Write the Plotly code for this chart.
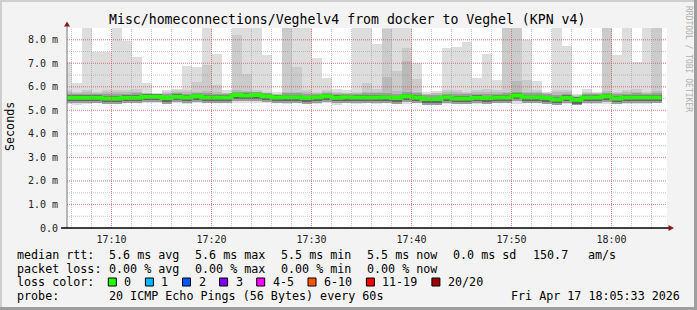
import plotly.graph_objects as go
import pandas as pd

# ---------------- data (values in milliseconds) ----------------
times = pd.date_range("2026-04-17 17:05", "2026-04-17 18:04", freq="1min")
end_time = pd.Timestamp("2026-04-17 18:05")
view_start, view_end = "2026-04-17 17:05:33", "2026-04-17 18:05:33"

ping_max = [7.05, 6.15, 9.0, 7.50, 7.46, 9.0, 7.93, 7.25, 6.15, 5.75,
            5.87, 5.90, 6.89, 6.85, 9.0, 7.38, 5.85, 9.0, 9.0, 9.0,
            7.35, 5.78, 9.0, 9.0, 9.0, 7.21, 6.37, 5.90, 5.85, 9.0,
            9.0, 7.80, 9.0, 9.0, 9.0, 7.00, 5.78, 5.83, 7.63, 7.68,
            7.89, 6.37, 7.38, 6.27, 9.0, 9.0, 8.00, 6.23, 5.80, 9.0,
            7.72, 5.70, 5.90, 5.78, 9.0, 7.35, 9.0, 7.04, 9.0, 9.0]
ping_2nd = [5.85, 5.80, 5.85, 5.80, 5.85, 5.85, 5.85, 5.90, 5.75, 5.70,
            5.80, 5.85, 5.85, 6.20, 6.93, 6.08, 5.75, 8.20, 6.55, 5.85,
            5.80, 5.70, 9.00, 6.83, 5.85, 5.80, 5.85, 5.80, 5.75, 5.80,
            6.15, 5.90, 8.45, 6.66, 7.63, 6.32, 5.70, 5.75, 5.85, 5.85,
            5.80, 5.85, 5.90, 5.85, 9.00, 9.00, 6.27, 5.85, 5.75, 5.85,
            5.85, 5.65, 5.80, 5.75, 9.00, 5.80, 5.85, 5.90, 5.80, 9.00]
ping_3rd = [5.78, 5.75, 5.78, 5.75, 5.78, 5.78, 5.78, 5.80, 5.72, 5.68,
            5.75, 5.78, 5.78, 5.80, 5.82, 5.80, 5.72, 5.85, 5.82, 5.80,
            5.75, 5.68, 5.80, 5.78, 5.78, 5.75, 5.78, 5.75, 5.72, 5.75,
            5.80, 5.80, 6.40, 5.82, 7.08, 5.80, 5.68, 5.72, 5.78, 5.78,
            5.75, 5.78, 5.80, 5.78, 5.80, 6.23, 5.80, 5.78, 5.72, 5.78,
            5.78, 5.62, 5.75, 5.72, 5.82, 5.75, 5.78, 5.80, 5.75, 5.82]
upper_q = [5.70, 5.68, 5.70, 5.70, 5.68, 5.68, 5.70, 5.72, 5.68, 5.66,
           5.68, 5.72, 5.70, 5.74, 5.72, 5.70, 5.68, 5.78, 5.76, 5.76,
           5.72, 5.66, 5.72, 5.72, 5.68, 5.70, 5.72, 5.70, 5.70, 5.70,
           5.72, 5.72, 5.74, 5.70, 5.76, 5.72, 5.64, 5.66, 5.70, 5.68,
           5.68, 5.70, 5.70, 5.70, 5.72, 5.76, 5.72, 5.72, 5.68, 5.66,
           5.70, 5.58, 5.70, 5.68, 5.74, 5.68, 5.70, 5.72, 5.70, 5.72]
median = [5.54, 5.54, 5.54, 5.54, 5.50, 5.50, 5.54, 5.54, 5.58, 5.58,
          5.52, 5.58, 5.55, 5.60, 5.55, 5.55, 5.55, 5.65, 5.63, 5.65,
          5.60, 5.55, 5.56, 5.56, 5.52, 5.56, 5.60, 5.54, 5.56, 5.55,
          5.55, 5.55, 5.56, 5.52, 5.60, 5.55, 5.48, 5.48, 5.56, 5.50,
          5.50, 5.54, 5.52, 5.55, 5.55, 5.63, 5.56, 5.56, 5.52, 5.46,
          5.54, 5.45, 5.55, 5.55, 5.60, 5.50, 5.55, 5.55, 5.55, 5.55]
lower_q = [5.36, 5.32, 5.35, 5.36, 5.34, 5.35, 5.36, 5.38, 5.38, 5.38,
           5.38, 5.38, 5.36, 5.38, 5.36, 5.38, 5.38, 5.40, 5.40, 5.38,
           5.38, 5.38, 5.36, 5.38, 5.35, 5.36, 5.38, 5.32, 5.38, 5.36,
           5.36, 5.36, 5.38, 5.36, 5.36, 5.38, 5.34, 5.34, 5.36, 5.36,
           5.36, 5.36, 5.36, 5.38, 5.36, 5.38, 5.38, 5.38, 5.36, 5.32,
           5.36, 5.32, 5.36, 5.36, 5.38, 5.34, 5.36, 5.36, 5.36, 5.38]
ping_min = [5.25, 5.22, 5.28, 5.30, 5.28, 5.30, 5.30, 5.32, 5.30, 5.30,
            5.32, 5.30, 5.28, 5.30, 5.30, 5.30, 5.30, 5.30, 5.32, 5.30,
            5.30, 5.30, 5.28, 5.30, 5.28, 5.28, 5.30, 5.22, 5.30, 5.28,
            5.30, 5.28, 5.30, 5.30, 5.28, 5.30, 5.30, 5.30, 5.28, 5.30,
            5.30, 5.28, 5.30, 5.32, 5.30, 5.28, 5.30, 5.30, 5.28, 5.25,
            5.28, 5.25, 5.28, 5.28, 5.28, 5.25, 5.28, 5.28, 5.28, 5.30]

y_tickvals = [0, 1, 2, 3, 4, 5, 6, 7, 8]
y_ticktext = ["0.0", "1.0 m", "2.0 m", "3.0 m", "4.0 m", "5.0 m", "6.0 m", "7.0 m", "8.0 m"]

title = "Misc/homeconnections/Veghelv4 from docker to Veghel (KPN v4)"
rtt_items = ["median rtt:", "5.6 ms avg", "5.6 ms max", "5.5 ms min", "5.5 ms now", "0.0 ms sd", "150.7", "am/s"]
loss_items = ["packet loss:", "0.00 % avg", "0.00 % max", "0.00 % min", "0.00 % now"]
probe_items = ["probe:", "20 ICMP Echo Pings (56 Bytes) every 60s"]
stamp = "Fri Apr 17 18:05:33 2026"
loss_title = "loss color:"
loss_labels = ["0", "1", "2", "3", "4-5", "6-10", "11-19", "20/20"]
loss_colors = ["#26ff00", "#00b8ff", "#0059ff", "#7e00ff", "#ff00ff", "#ff5500", "#ff0000", "#a00000"]

# ---------------- layout geometry ----------------
W, H = 697, 310
L, R, T, B = 67, 30, 28, 82
PW, PH = W - L - R, H - T - B
FONT = "DejaVu Sans Mono"
FS = 11.7


def px(x):
    return (x - L) / PW


def py(y):
    return (H - B - y) / PH


def nb(s):
    return s.replace(" ", "\u00a0")


fig = go.Figure()

MIN = pd.Timedelta(minutes=1).total_seconds() * 1000
mid_lo = [m - 0.24 for m in median]
shadow_lo = [m - 0.16 for m in median]
shadow_hi = [m + 0.10 for m in median]

bands = [
    (ping_min, ping_max, "#dddddd"),
    (lower_q, ping_2nd, "#cbcbcb"),
    (lower_q, ping_3rd, "#b9b9b9"),
    (mid_lo, upper_q, "#9c9c9c"),
    (shadow_lo, shadow_hi, "#666666"),
]
for lo, hi, col in bands:
    fig.add_trace(go.Bar(
        x=times, y=[h - l for h, l in zip(hi, lo)], base=lo,
        width=MIN, offset=0, marker=dict(color=col, line=dict(width=0)),
        hoverinfo="skip", showlegend=False))

fig.add_trace(go.Scatter(
    x=list(times) + [end_time], y=median + [median[-1]],
    mode="lines", line=dict(color=loss_colors[0], width=4, shape="hv"),
    showlegend=False, hoverinfo="skip"))

shapes = []
minor_c = "rgba(150,150,150,0.55)"
major_c = "rgba(235,70,70,0.5)"
for t in pd.date_range("2026-04-17 17:06", "2026-04-17 18:04", freq="2min"):
    shapes.append(dict(type="line", xref="x", yref="paper", x0=t, x1=t, y0=0, y1=1,
                       line=dict(color=minor_c, width=1, dash="1px,1px"), layer="above"))
for v in [i * 0.5 for i in range(1, 17)]:
    shapes.append(dict(type="line", xref="paper", yref="y", x0=0, x1=1, y0=v, y1=v,
                       line=dict(color=minor_c, width=1, dash="1px,1px"), layer="above"))
for t in pd.date_range("2026-04-17 17:10", "2026-04-17 18:00", freq="10min"):
    shapes.append(dict(type="line", xref="x", yref="paper", x0=t, x1=t, y0=0, y1=1,
                       line=dict(color=major_c, width=1, dash="1px,1px"), layer="above"))
for v in y_tickvals[1:]:
    shapes.append(dict(type="line", xref="paper", yref="y", x0=0, x1=1, y0=v, y1=v,
                       line=dict(color=major_c, width=1, dash="1px,1px"), layer="above"))

shapes.append(dict(type="line", xref="paper", yref="paper", x0=px(67), x1=px(67), y0=py(228), y1=py(25),
                   line=dict(color="#777777", width=1), layer="above"))
shapes.append(dict(type="line", xref="paper", yref="paper", x0=px(61), x1=px(670), y0=py(228), y1=py(228),
                   line=dict(color="#000000", width=1.3), layer="above"))
shapes.append(dict(type="path", xref="paper", yref="paper",
                   path=f"M {px(64)} {py(26.5)} L {px(70)} {py(26.5)} L {px(67)} {py(21.5)} Z",
                   fillcolor="#8b1a1a", line=dict(width=0), layer="above"))
shapes.append(dict(type="path", xref="paper", yref="paper",
                   path=f"M {px(668.5)} {py(225)} L {px(668.5)} {py(231)} L {px(674)} {py(228)} Z",
                   fillcolor="#8b1a1a", line=dict(width=0), layer="above"))

shapes.append(dict(type="rect", xref="paper", yref="paper", x0=px(0), x1=px(W), y0=py(0), y1=py(2),
                   fillcolor="#cfcfcf", line=dict(width=0), layer="below"))
shapes.append(dict(type="rect", xref="paper", yref="paper", x0=px(0), x1=px(2), y0=py(0), y1=py(H),
                   fillcolor="#cfcfcf", line=dict(width=0), layer="below"))
shapes.append(dict(type="rect", xref="paper", yref="paper", x0=px(W - 3), x1=px(W), y0=py(0), y1=py(H),
                   fillcolor="#9e9e9e", line=dict(width=0), layer="below"))
shapes.append(dict(type="rect", xref="paper", yref="paper", x0=px(0), x1=px(W), y0=py(H - 3), y1=py(H),
                   fillcolor="#9e9e9e", line=dict(width=0), layer="below"))

annotations = []


def label(text, x, y, anchor="left", size=FS, color="#000000", angle=0):
    annotations.append(dict(text=nb(text), xref="paper", yref="paper", x=px(x), y=py(y),
                            xanchor=anchor, yanchor="middle", showarrow=False, textangle=angle,
                            font=dict(family=FONT, size=size, color=color)))


label(title, 346.5, 19, anchor="center", size=13.2)
label("Seconds", 10, 127, anchor="center", angle=-90)
label("RRDTOOL / TOBI OETIKER", 689, 59, anchor="center", size=8, color="#b0b0b0", angle=90)

line_y = [255, 268.5, 282, 295.5]
rtt_x = [15, 106.5, 192.5, 278.5, 364.5, 451, 530.5, 585.5]
loss_x = [15, 106.5, 192.5, 278.5, 364.5]
probe_x = [15, 106.5]
for txt, xx in zip(rtt_items, rtt_x):
    label(txt, xx, line_y[0])
for txt, xx in zip(loss_items, loss_x):
    label(txt, xx, line_y[1])
label(loss_title, 15, line_y[2])
for txt, xx in zip(probe_items, probe_x):
    label(txt, xx, line_y[3])
label(stamp, 682, line_y[3], anchor="right")

CH = 7.1
bx = 108.3
for lab, col in zip(loss_labels, loss_colors):
    shapes.append(dict(type="rect", xref="paper", yref="paper", x0=px(bx), x1=px(bx + 8),
                       y0=py(line_y[2] - 4), y1=py(line_y[2] + 4),
                       fillcolor=col, line=dict(color="#000000", width=1), layer="above"))
    label(lab, bx + 14, line_y[2])
    bx += 15 + len(lab) * CH + 15

fig.update_layout(
    width=W, height=H, margin=dict(l=L, r=R, t=T, b=B),
    paper_bgcolor="#f3f3f3", plot_bgcolor="#ffffff",
    barmode="overlay", bargap=0, showlegend=False,
    shapes=shapes, annotations=annotations,
    xaxis=dict(type="date", range=[view_start, view_end], dtick=10 * MIN,
               tick0="2026-04-17 17:10", tickformat="%H:%M", showgrid=False,
               zeroline=False, showline=False, ticks="outside", ticklen=2,
               tickcolor="rgba(0,0,0,0)",
               tickfont=dict(family=FONT, size=10, color="#222222"), fixedrange=True),
    yaxis=dict(range=[0, 8.5], tickvals=y_tickvals, ticktext=y_ticktext, showgrid=False,
               zeroline=False, showline=False, ticks="outside", ticklen=6,
               tickcolor="rgba(0,0,0,0)",
               tickfont=dict(family=FONT, size=10, color="#222222"), fixedrange=True),
)

fig.write_html("out.html", config={"displayModeBar": False})
